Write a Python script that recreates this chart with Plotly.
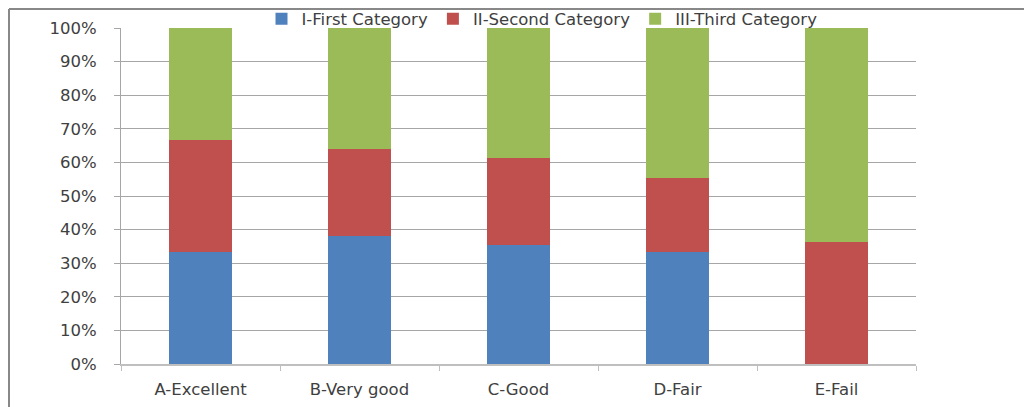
import plotly.graph_objects as go

categories = ["A-Excellent", "B-Very good", "C-Good", "D-Fair", "E-Fail"]
first_cat = [33.3, 38.2, 35.5, 33.3, 0.0]
second_cat = [33.3, 25.9, 25.8, 22.2, 36.4]
third_cat = [33.4, 35.9, 38.7, 44.5, 63.6]
series_names = ["I-First Category", "II-Second Category", "III-Third Category"]
colors = ["#4F81BD", "#C0504D", "#9BBB59"]
tick_vals = [0, 10, 20, 30, 40, 50, 60, 70, 80, 90, 100]
tick_text = [f"{v}%" for v in tick_vals]

W, H = 1032, 407
OFF = 8  # page body offset
L, R, T, B = 121 - OFF, 916 - OFF, 28 - OFF, 364 - OFF

fig = go.Figure()
for name, vals, col in zip(series_names, [first_cat, second_cat, third_cat], colors):
    fig.add_trace(go.Bar(x=categories, y=vals, name=name, marker=dict(color=col, line=dict(width=0)),
                         width=0.40))

font_family = "DejaVu Sans, sans-serif"
fs = 16.5
fig.update_layout(
    width=W, height=H,
    barmode="stack",
    plot_bgcolor="white", paper_bgcolor="white",
    margin=dict(l=L, r=W - R, t=T, b=H - B, pad=0, autoexpand=False),
    font=dict(family=font_family, size=fs, color="#404040"),
    showlegend=True,
    legend=dict(orientation="h", x=(542 - 121) / 795, xanchor="center", y=(B - (19 - OFF)) / (B - T),
                yanchor="middle",
                font=dict(size=fs, color="#404040"), itemwidth=30, traceorder="normal",
                bgcolor="rgba(0,0,0,0)", tracegroupgap=0),
)
fig.update_yaxes(range=[0, 100], tickvals=tick_vals, ticktext=tick_text, showgrid=True,
                 gridcolor="#A6A6A6", gridwidth=1, showline=True, linecolor="#A6A6A6", linewidth=1,
                 ticks="outside", ticklen=6, tickcolor="#A6A6A6", zeroline=False,
                 ticklabelstandoff=14, tickfont=dict(size=fs, color="#404040"), automargin=False)
fig.update_xaxes(showgrid=False, showline=True, linecolor="#BFBFBF", linewidth=1.5,
                 ticks="outside", tickson="boundaries", ticklen=5, tickcolor="#BFBFBF",
                 ticklabelstandoff=9, tickfont=dict(size=fs, color="#404040"), automargin=False)

# outer chart frame (partially visible at left and top)
fx = (1 - L) / (R - L)
fy_top = (B - 1) / (B - T)
fy_bot = (B - 420) / (B - T)
fx_right = (1040 - L) / (R - L)
fig.add_shape(type="line", xref="paper", yref="paper", x0=fx, x1=fx, y0=fy_bot, y1=fy_top,
              line=dict(color="#888888", width=2))
fig.add_shape(type="line", xref="paper", yref="paper", x0=fx, x1=fx_right, y0=fy_top, y1=fy_top,
              line=dict(color="#888888", width=2))

fig.write_html("out.html")
